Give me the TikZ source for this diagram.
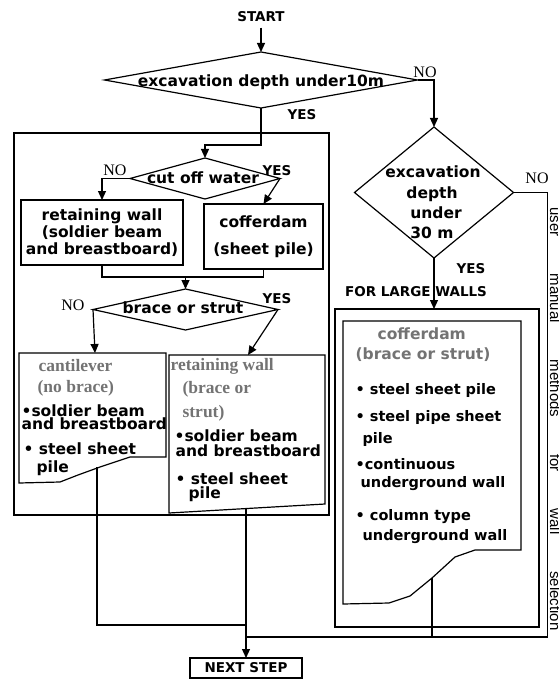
\documentclass[tikz,border=0pt]{standalone}
\usepackage{fontspec}
\usetikzlibrary{arrows.meta,shapes.geometric}
\newfontfamily\chic{DejaVu Sans}
\newfontfamily\serf{Liberation Serif}
\newfontfamily\helv{Liberation Sans}
\newcommand\bodyf{\chic\bfseries\fontsize{15.5}{17}\selectfont}
\newcommand\smallf{\chic\bfseries\fontsize{14.5}{17}\selectfont}
\newcommand\capsf{\chic\bfseries\fontsize{13.5}{16}\selectfont}
\newcommand\hdgf{\serf\bfseries\fontsize{17.5}{19}\selectfont}
\newcommand\nof{\serf\fontsize{16}{18}\selectfont}
\newcommand\sidef{\helv\fontsize{15}{17}\selectfont}

\begin{document}
\begin{tikzpicture}[x=1pt, y=-1pt, line width=1.2pt,
  arr/.style={-{Triangle[length=9pt,width=8pt]}},
  dec/.style={diamond, draw, inner sep=0pt, outer sep=0pt},
  box/.style={rectangle, draw, inner sep=0pt, outer sep=0pt},
  txt/.style={font=\bodyf, inner sep=0pt},
  txts/.style={font=\smallf, inner sep=0pt},
  lab/.style={font=\capsf, inner sep=0pt},
  nolab/.style={font=\nof, inner sep=0pt},
  hdg/.style={font=\hdgf, text=black!55, inner sep=0pt}]
\useasboundingbox (0,0) rectangle (558,679);

% frames
\draw (14,133) rectangle (329,515);
\draw (335,309) rectangle (539,627);

% decisions
\node[lab] (start) at (261,17) {START};
\node[dec, minimum width=313pt, minimum height=56pt] (d1) at (261,80) {};
\node[txt, anchor=base] (d1t) at (261,87) {excavation depth under10m};
\node[dec, minimum width=150pt, minimum height=41pt] (d2) at (205,178.5) {};
\node[txt, anchor=base] (d2t) at (203,183) {cut off water};
\node[dec, minimum width=185pt, minimum height=41pt] (d3) at (185.5,309.5) {};
\node[txt, anchor=base] (d3t) at (183,313) {brace or strut};
\node[dec, minimum width=159pt, minimum height=131pt] (d4) at (434,192.5) {};
\foreach \x/\y/\t [count=\i] in {433/178/excavation, 432/198/depth, 436/218/under, 432/238/{30 m}}
  \node[txt, anchor=base] (d4t\i) at (\x,\y) {\t};

% boxes
\node[box, txt, align=center, minimum width=162pt, minimum height=65pt] (ra) at (102,232.5)
  {retaining wall\\(soldier beam\\and breastboard)};
\node[box, txt, align=center, minimum width=119pt, minimum height=65pt] (cd) at (263.5,236.5)
  {cofferdam\\[10pt](sheet pile)};
\node[box, lab, minimum width=112pt, minimum height=20pt] (ns) at (246,668) {NEXT STEP};

% documents
\draw (19,353) -- (166,353) -- (166,457) -- (130,457) -- (100,467) -- (78,475) -- (60,482) -- (19,483) -- cycle;
\draw (169,355) -- (325,355) -- (325,504) -- (169,513) -- cycle;
\draw (343,321) -- (521,321) -- (521,550) -- (475,550) -- (455,557) -- (432,578) -- (410,596) -- (389,603) -- (343,604) -- cycle;

\foreach \x/\y/\t [count=\i] in {38/371/cantilever, 37/392/{(no brace)}, 170/370/{retaining wall}, 182/393/{(brace or}, 182/417/{strut)}}
  \node[hdg, anchor=base west] (h\i) at (\x,\y) {\t};
\foreach \x/\y/\t [count=\i] in {21/416/{•soldier beam}, 21/429/{and breastboard}, 23/454/{• steel sheet}, 36/472/pile}
  \node[txt, anchor=base west] (cl\i) at (\x,\y) {\t};
\foreach \x/\y/\t [count=\i] in {174/441/{•soldier beam}, 175/456/{and breastboard}, 175/484/{• steel sheet}, 188/498/pile}
  \node[txt, anchor=base west] (rw\i) at (\x,\y) {\t};
\node[txt, text=black!55, anchor=base west] (cfh1) at (377,339) {cofferdam};
\node[txt, text=black!55, anchor=base west] (cfh2) at (355,359) {(brace or strut)};
\foreach \x/\y/\t [count=\i] in {355/394/{• steel sheet pile}, 355/421/{• steel pipe sheet}, 362/443/pile, 355/469/{•continuous}, 360/487/{underground wall}, 355/520/{• column type}, 362/540/{underground wall}}
  \node[txts, anchor=base west] (cf\i) at (\x,\y) {\t};

% labels
\node[lab] (y1) at (302,115) {YES};
\node[nolab] (n1) at (425,72) {NO};
\node[nolab] (n2) at (115,170) {NO};
\node[lab] (y2) at (277,171) {YES};
\node[nolab] (n3) at (73,305) {NO};
\node[lab] (y3) at (277,299) {YES};
\node[nolab] (n4) at (537,178) {NO};
\node[lab] (y4) at (471,269) {YES};
\node[lab] (flw) at (416,292) {FOR LARGE WALLS};
\node[font=\sidef, inner sep=0pt, rotate=-90, anchor=base west] (side) at (550,207)
  {\makebox[423pt][s]{user manual methods for wall selection}};

% connectors
\coordinate (mg) at (185.5,277);
\coordinate (cl-in) at (95,353);
\coordinate (rw-in) at (248,355);
\coordinate (cl-out) at (97,467);
\coordinate (rw-out) at (246,508.5);
\coordinate (cf-out) at (432,578);
\coordinate (jn) at (246,625);
\coordinate (jn2) at (246,637);

\draw[arr] (start.south) ++(0,5) -- (d1.north);
\draw[arr] (d1.south) -- ++(0,37) -| (d2.north);
\draw[arr] (d1.east) -| (d4.north);
\draw[arr] (d2.west) -| (ra.north);
\draw[arr] (d2.east) -- (cd.north);
\draw (ra.south) |- (mg) -| (cd.south);
\draw[arr] (mg) -- (d3.north);
\draw[arr] (d3.west) -- (cl-in);
\draw[arr] (d3.east) -- (rw-in);
\draw[arr] (d4.south) -- (d4.south |- 0,309);
\draw (cl-out) |- (jn);
\draw[arr] (rw-out) -- (ns.north);
\draw (d4.east) -- ++(34,0) |- (jn2);
\draw (cf-out) -- (cf-out |- jn2);
\end{tikzpicture}
\end{document}
